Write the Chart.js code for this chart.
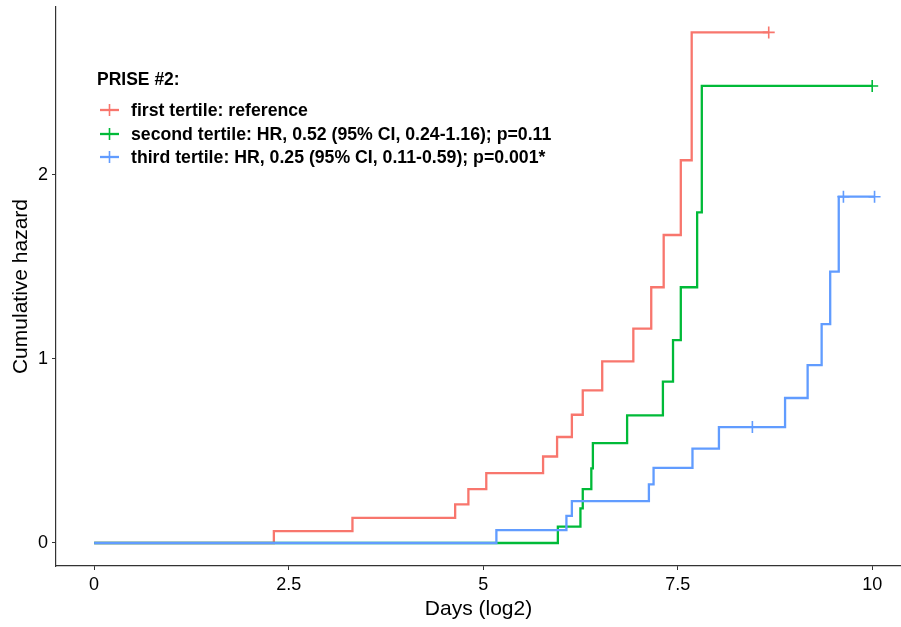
<!DOCTYPE html>
<html>
<head>
<meta charset="utf-8">
<script src="https://cdn.jsdelivr.net/npm/chart.js@4.4.0/dist/chart.umd.min.js"></script>
<style>
  html, body { margin: 0; padding: 0; background: #fff; }
  #wrap { width: 901px; height: 627px; }
</style>
</head>
<body>
<div id="wrap"><canvas id="chart" width="901" height="627"></canvas></div>
<script>
// Kumulative Hazardkurven (Nelson-Aalen)
const erstesX = [0, 2.31, 3.32, 4.64, 4.81, 5.04, 5.77, 5.95, 6.14, 6.28, 6.53, 6.93, 7.16, 7.32, 7.54, 7.68, 8.67];
const erstesY = [0, 0.065, 0.137, 0.21, 0.293, 0.38, 0.47, 0.576, 0.697, 0.83, 0.987, 1.165, 1.39, 1.674, 2.08, 2.775, 2.775];

const zweitesX = [0, 5.96, 6.25, 6.28, 6.39, 6.41, 6.85, 7.31, 7.44, 7.54, 7.75, 7.81, 10.0];
const zweitesY = [0, 0.089, 0.188, 0.293, 0.406, 0.543, 0.694, 0.877, 1.103, 1.39, 1.797, 2.484, 2.484];

const drittesX = [0, 5.17, 6.07, 6.14, 7.13, 7.19, 7.69, 8.03, 8.88, 9.17, 9.35, 9.46, 9.57, 10.03];
const drittesY = [0, 0.07, 0.147, 0.228, 0.319, 0.408, 0.513, 0.63, 0.788, 0.967, 1.19, 1.475, 1.882, 1.882];

// zensierte Beobachtungen (Kreuze)
const zensErstesX = [8.67];
const zensErstesY = [2.775];
const zensZweitesX = [10.0];
const zensZweitesY = [2.484];
const zensDrittesX = [8.46, 9.63, 10.03];
const zensDrittesY = [0.63, 1.882, 1.882];

const xTicks = [0, 2.5, 5, 7.5, 10];
const yTicks = [0, 1, 2];

const legendeTitel = "PRISE #2:";
const legendeTexte = [
  "first tertile: reference",
  "second tertile: HR, 0.52 (95% CI, 0.24-1.16); p=0.11",
  "third tertile: HR, 0.25 (95% CI, 0.11-0.59); p=0.001*"
];
const farben = ["#F8766D", "#00BA38", "#619CFF"];

function punkte(xs, ys) {
  return xs.map((x, i) => ({ x: x, y: ys[i] }));
}

function stufe(label, xs, ys, farbe, order) {
  return {
    label: label,
    data: punkte(xs, ys),
    showLine: true,
    stepped: "before",
    borderColor: farbe,
    borderWidth: 2.3,
    pointRadius: 0,
    fill: false,
    order: order
  };
}

function kreuze(xs, ys, farbe) {
  return {
    data: punkte(xs, ys),
    showLine: false,
    pointStyle: "cross",
    pointRadius: 6,
    pointBorderWidth: 1.6,
    pointBorderColor: farbe,
    pointBackgroundColor: farbe,
    order: 0
  };
}

// eigene Legende innerhalb der Zeichenfläche, wie bei ggplot
const legendePlugin = {
  id: "legendeInnen",
  afterDraw(chart) {
    const ctx = chart.ctx;
    ctx.save();
    ctx.fillStyle = "#000";
    ctx.font = "bold 17.5px 'Liberation Sans', Arial, sans-serif";
    ctx.textBaseline = "middle";
    ctx.fillText(legendeTitel, 97, 80);
    ctx.font = "bold 17.7px 'Liberation Sans', Arial, sans-serif";
    const zeilen = [110, 134, 157];
    legendeTexte.forEach((text, i) => {
      const y = zeilen[i];
      ctx.strokeStyle = farben[i];
      ctx.lineWidth = 2.3;
      ctx.beginPath();
      ctx.moveTo(100, y);
      ctx.lineTo(119, y);
      ctx.stroke();
      ctx.lineWidth = 1.6;
      ctx.beginPath();
      ctx.moveTo(109.5, y - 6);
      ctx.lineTo(109.5, y + 6);
      ctx.stroke();
      ctx.fillStyle = "#000";
      ctx.fillText(text, 131, y + 1);
    });
    ctx.restore();
  }
};

// Achsen ohne automatische Randabstände für Beschriftungen
function ohneRand(axis) {
  axis.paddingTop = 0;
  axis.paddingBottom = 0;
  axis.paddingLeft = 0;
  axis.paddingRight = 0;
}

const tickFont = { family: "'Liberation Sans', Arial, sans-serif", size: 18 };
const titelFont = { family: "'Liberation Sans', Arial, sans-serif", size: 21 };

new Chart(document.getElementById("chart").getContext("2d"), {
  type: "scatter",
  data: {
    datasets: [
      stufe(legendeTexte[0], erstesX, erstesY, farben[0], 3),
      stufe(legendeTexte[1], zweitesX, zweitesY, farben[1], 2),
      stufe(legendeTexte[2], drittesX, drittesY, farben[2], 1),
      kreuze(zensErstesX, zensErstesY, farben[0]),
      kreuze(zensZweitesX, zensZweitesY, farben[1]),
      kreuze(zensDrittesX, zensDrittesY, farben[2])
    ]
  },
  options: {
    responsive: false,
    animation: false,
    devicePixelRatio: 1,
    layout: { autoPadding: false, padding: { top: 7, right: 0, left: 0, bottom: 0 } },
    plugins: {
      legend: { display: false },
      tooltip: { enabled: false }
    },
    scales: {
      x: {
        type: "linear",
        min: -0.49,
        max: 10.37,
        afterBuildTicks: axis => { axis.ticks = xTicks.map(v => ({ value: v })); },
        afterFit: axis => { axis.height = 61; ohneRand(axis); },
        ticks: {
          color: "#000",
          font: tickFont,
          padding: 4,
          maxRotation: 0,
          callback: v => String(v)
        },
        grid: {
          drawOnChartArea: false,
          drawTicks: true,
          tickLength: 4,
          tickColor: "#333",
          tickWidth: 1
        },
        border: { display: true, color: "#333", width: 1.2 },
        title: {
          display: true,
          text: "Days (log2)",
          color: "#000",
          font: titelFont,
          padding: { top: 0, bottom: 5 }
        }
      },
      y: {
        type: "linear",
        min: -0.125,
        max: 2.913,
        afterBuildTicks: axis => { axis.ticks = yTicks.map(v => ({ value: v })); },
        afterFit: axis => { axis.width = 56; ohneRand(axis); },
        ticks: {
          color: "#000",
          font: tickFont,
          padding: 4,
          callback: v => String(v)
        },
        grid: {
          drawOnChartArea: false,
          drawTicks: true,
          tickLength: 4,
          tickColor: "#333",
          tickWidth: 1
        },
        border: { display: true, color: "#333", width: 1.2 },
        title: {
          display: true,
          text: "Cumulative hazard",
          color: "#000",
          font: titelFont,
          padding: { top: 9, bottom: 0 }
        }
      }
    }
  },
  plugins: [legendePlugin]
});
</script>
</body>
</html>
